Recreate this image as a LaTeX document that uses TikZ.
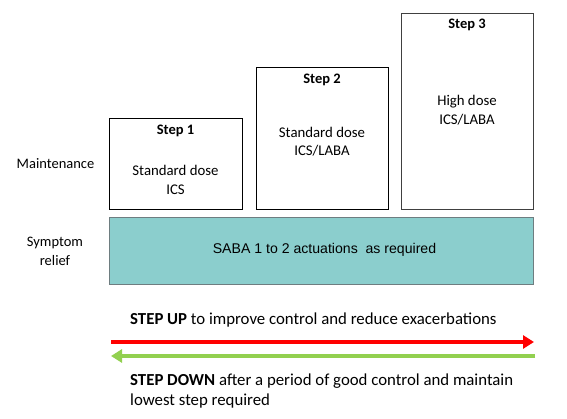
\documentclass[tikz,border=0pt]{standalone}
\usepackage{fontspec}
\setmainfont{Carlito}
\newfontfamily\arialf{Liberation Sans}
\usetikzlibrary{arrows.meta}
\definecolor{sabafill}{RGB}{139,206,205}
\definecolor{sabaedge}{RGB}{110,125,128}
\definecolor{upred}{RGB}{255,0,0}
\definecolor{downgreen}{RGB}{146,208,80}
\tikzset{
  stepbox/.style={draw=black, line width=1pt, fill=white, anchor=north west, inner sep=0pt},
  titletext/.style={font=\fontsize{14.5}{17}\selectfont\bfseries, inner sep=0pt},
  bodytext/.style={font=\fontsize{14.8}{18.5}\selectfont, align=center, inner sep=0pt},
  sidetext/.style={font=\fontsize{14.5}{19}\selectfont, align=center, inner sep=0pt},
  arrowtext/.style={font=\fontsize{16.8}{20}\selectfont, align=left, anchor=west, inner sep=0pt},
}
\begin{document}
\begin{tikzpicture}[x=1pt,y=-1pt]
\useasboundingbox[fill=white] (0,0) rectangle (567,419);
% boxes
\node[stepbox, minimum width=133pt, minimum height=91pt] (b1) at (109,118) {};
\node[stepbox, minimum width=132pt, minimum height=142pt] (b2) at (256,67) {};
\node[stepbox, draw=black!75, minimum width=132pt, minimum height=196pt] (b3) at (401,13) {};
\node[stepbox, draw=sabaedge, fill=sabafill, line width=1.2pt, minimum width=424pt, minimum height=67pt] (saba) at (109,217) {};
% titles
\node[titletext] (t1) at (175.5,131) {Step 1};
\node[titletext] (t2) at (322,80) {Step 2};
\node[titletext] (t3) at (467,25) {Step 3};
% contents
\node[bodytext] (c1) at (175.5,180) {Standard dose\\ICS};
\node[bodytext] (c2) at (322,141.5) {Standard dose\\ICS/LABA};
\node[bodytext] (c3) at (467,110) {High dose\\ICS/LABA};
\node[font=\arialf\fontsize{14.1}{16}\selectfont, inner sep=0pt] (st) at (324.5,250) {SABA 1 to 2 actuations\ \ as required};
% side labels
\node[sidetext] (m) at (55.5,163.5) {Maintenance};
\node[sidetext] (s) at (55,251) {Symptom\\relief};
% arrows
\coordinate (rl) at (111,342);
\coordinate (rr) at (534,342);
\coordinate (gl) at (111,356);
\coordinate (gr) at (535,356);
\draw[upred, line width=4pt, -{Triangle[length=11pt,width=13pt]}] (rl) -- (rr);
\draw[downgreen, line width=4pt, -{Triangle[length=11pt,width=13pt]}] (gr) -- (gl);
\node[arrowtext] (up) at (130,320) {\textbf{STEP UP} to improve control and reduce exacerbations};
\node[arrowtext] (down) at (130,391) {\textbf{STEP DOWN} after a period of good control and maintain\\lowest step required};
\end{tikzpicture}
\end{document}
